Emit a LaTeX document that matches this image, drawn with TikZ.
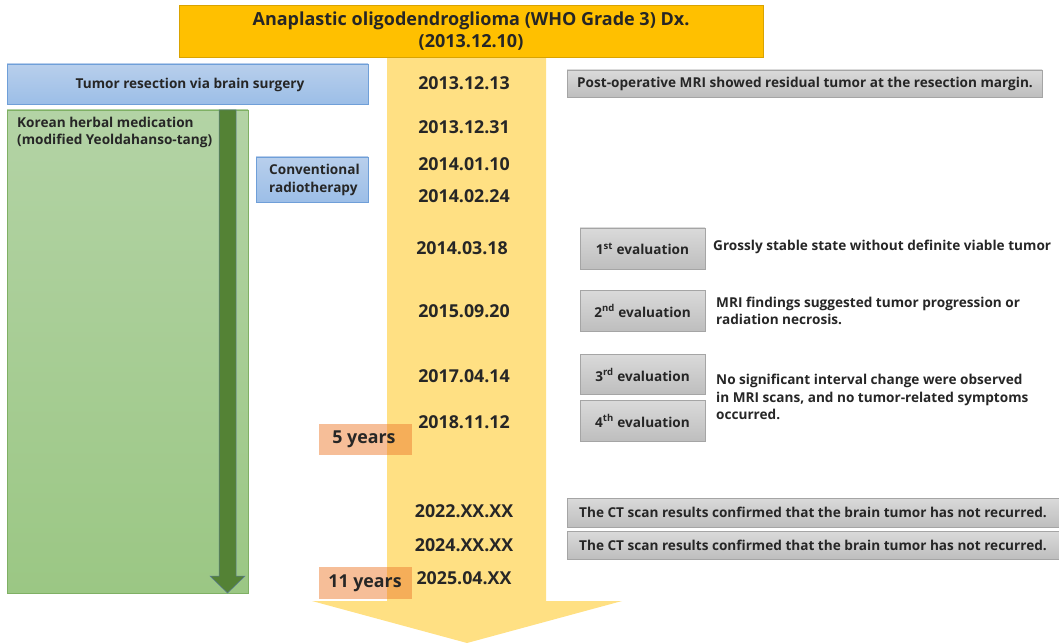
\documentclass[tikz,border=0pt]{standalone}
\usepackage{fontspec}
\setmainfont{Open Sans}
\usetikzlibrary{shapes.geometric}
\definecolor{topfill}{HTML}{FFC000}
\definecolor{topline}{HTML}{D9A300}
\definecolor{band}{HTML}{FFE083}
\definecolor{bluetop}{HTML}{B8CFEC}
\definecolor{bluebot}{HTML}{9CBEE7}
\definecolor{blueline}{HTML}{6F9FD8}
\definecolor{greentop}{HTML}{B3D3A5}
\definecolor{greenbot}{HTML}{9BC784}
\definecolor{greenline}{HTML}{7FB064}
\definecolor{darkgreen}{HTML}{548235}
\definecolor{arrline}{HTML}{5A7A9A}
\definecolor{graytop}{HTML}{DADADA}
\definecolor{graybot}{HTML}{BEBEBE}
\definecolor{grayline}{HTML}{A5A5A5}
\definecolor{orng}{HTML}{ED7D31}
\definecolor{ink}{HTML}{262626}
\tikzset{
  box/.style={rectangle, inner sep=0pt, outer sep=0pt},
  bluebox/.style={box, top color=bluetop, bottom color=bluebot, draw=blueline, line width=0.8pt},
  graybox/.style={box, top color=graytop, bottom color=graybot, draw=grayline, line width=0.8pt},
  orangebox/.style={box, fill=orng, fill opacity=0.5, text opacity=1},
  date/.style={inner sep=0pt, text=ink, font=\fontsize{17.8}{20}\selectfont\bfseries},
  lbl/.style={inner sep=0pt, text=ink, font=\fontsize{13.6}{17}\selectfont\bfseries},
  note/.style={inner sep=0pt, text=ink, align=left, anchor=west, font=\fontsize{13.6}{17.5}\selectfont\bfseries},
}
\begin{document}
\begin{tikzpicture}[x=1pt,y=-1pt]
\useasboundingbox (0,0) rectangle (1059,644);
% yellow timeline arrow
\fill[band] (387,57) -- (546,57) -- (546,601) -- (622,601) -- (467,643) -- (312,601) -- (387,601) -- cycle;
% top box
\node[box, fill=topfill, draw=topline, line width=0.8pt, minimum width=584pt, minimum height=52pt, align=center, text=ink,
  font=\fontsize{18}{22}\selectfont\bfseries] (dx) at (471,31) {Anaplastic oligodendroglioma (WHO Grade 3) Dx.\\(2013.12.10)};
% left boxes
\node[bluebox, minimum width=361pt, minimum height=40pt] (surg) at (187.5,84) {};
\node[lbl] (surgt) at (190,85) {Tumor resection via brain surgery};
\node[box, top color=greentop, bottom color=greenbot, draw=greenline, line width=0.8pt, minimum width=241pt, minimum height=483pt] (herb) at (127.5,351.5) {};
\node[lbl, anchor=north west, align=left, font=\fontsize{13.6}{16.5}\selectfont\bfseries] (herbt) at (17,117) {Korean herbal medication\\(modified Yeoldahanso-tang)};
\draw[fill=darkgreen, draw=arrline, line width=0.5pt] (219,110) -- (236,110) -- (236,576) -- (245,576) -- (227.5,593) -- (210,576) -- (219,576) -- cycle;
\node[bluebox, minimum width=112pt, minimum height=45pt] (radio) at (312,179.5) {};
\node[lbl, anchor=west, align=left, font=\fontsize{13.6}{17.5}\selectfont\bfseries] (radiot) at (269,180) {Conventional\\radiotherapy};
% dates
\node[date] (d1) at (464,83) {2013.12.13};
\node[date] (d2) at (464,127) {2013.12.31};
\node[date] (d3) at (464,164) {2014.01.10};
\node[date] (d4) at (464,196) {2014.02.24};
\node[date] (d5) at (462,248) {2014.03.18};
\node[date] (d6) at (464,311) {2015.09.20};
\node[date] (d7) at (464,376) {2017.04.14};
\node[date] (d8) at (464,422) {2018.11.12};
\node[date] (d9) at (464,511) {2022.XX.XX};
\node[date] (d10) at (464,545) {2024.XX.XX};
\node[date] (d11) at (464,578) {2025.04.XX};
% orange year boxes
\node[orangebox, minimum width=93pt, minimum height=31pt] (y5) at (365.5,439.5) {};
\node[date] (y5t) at (364,439.5) {5 years};
\node[orangebox, minimum width=93pt, minimum height=32pt] (y11) at (365.5,583) {};
\node[date] (y11t) at (365,583) {11 years};
% right side
\node[graybox, minimum width=475pt, minimum height=27pt] (post) at (804.5,83.5) {};
\node[lbl] (postt) at (805,83.5) {Post-operative MRI showed residual tumor at the resection margin.};
\node[graybox, minimum width=125pt, minimum height=41pt] (e1) at (642.5,248.5) {};
\node[lbl] (e1t) at (642.5,249) {1\textsuperscript{st} evaluation};
\node[graybox, minimum width=125pt, minimum height=41pt] (e2) at (642.5,310.5) {};
\node[lbl] (e2t) at (642.5,311) {2\textsuperscript{nd} evaluation};
\node[graybox, minimum width=125pt, minimum height=40pt] (e3) at (642.5,374) {};
\node[lbl] (e3t) at (642.5,375) {3\textsuperscript{rd} evaluation};
\node[graybox, minimum width=125pt, minimum height=41pt] (e4) at (642.5,420.5) {};
\node[lbl] (e4t) at (642.5,421) {4\textsuperscript{th} evaluation};
\node[note] (n1) at (713,247) {Grossly stable state without definite viable tumor};
\node[note] (n2) at (716,311) {MRI findings suggested tumor progression or\\radiation necrosis.};
\node[note] (n3) at (716,397) {No significant interval change were observed\\in MRI scans, and no tumor-related symptoms\\occurred.};
\node[graybox, minimum width=493pt, minimum height=29pt] (ct1) at (813.5,512.5) {};
\node[lbl] (ct1t) at (813,512.5) {The CT scan results confirmed that the brain tumor has not recurred.};
\node[graybox, minimum width=493pt, minimum height=28pt] (ct2) at (813.5,545) {};
\node[lbl] (ct2t) at (813,545) {The CT scan results confirmed that the brain tumor has not recurred.};
\end{tikzpicture}
\end{document}
